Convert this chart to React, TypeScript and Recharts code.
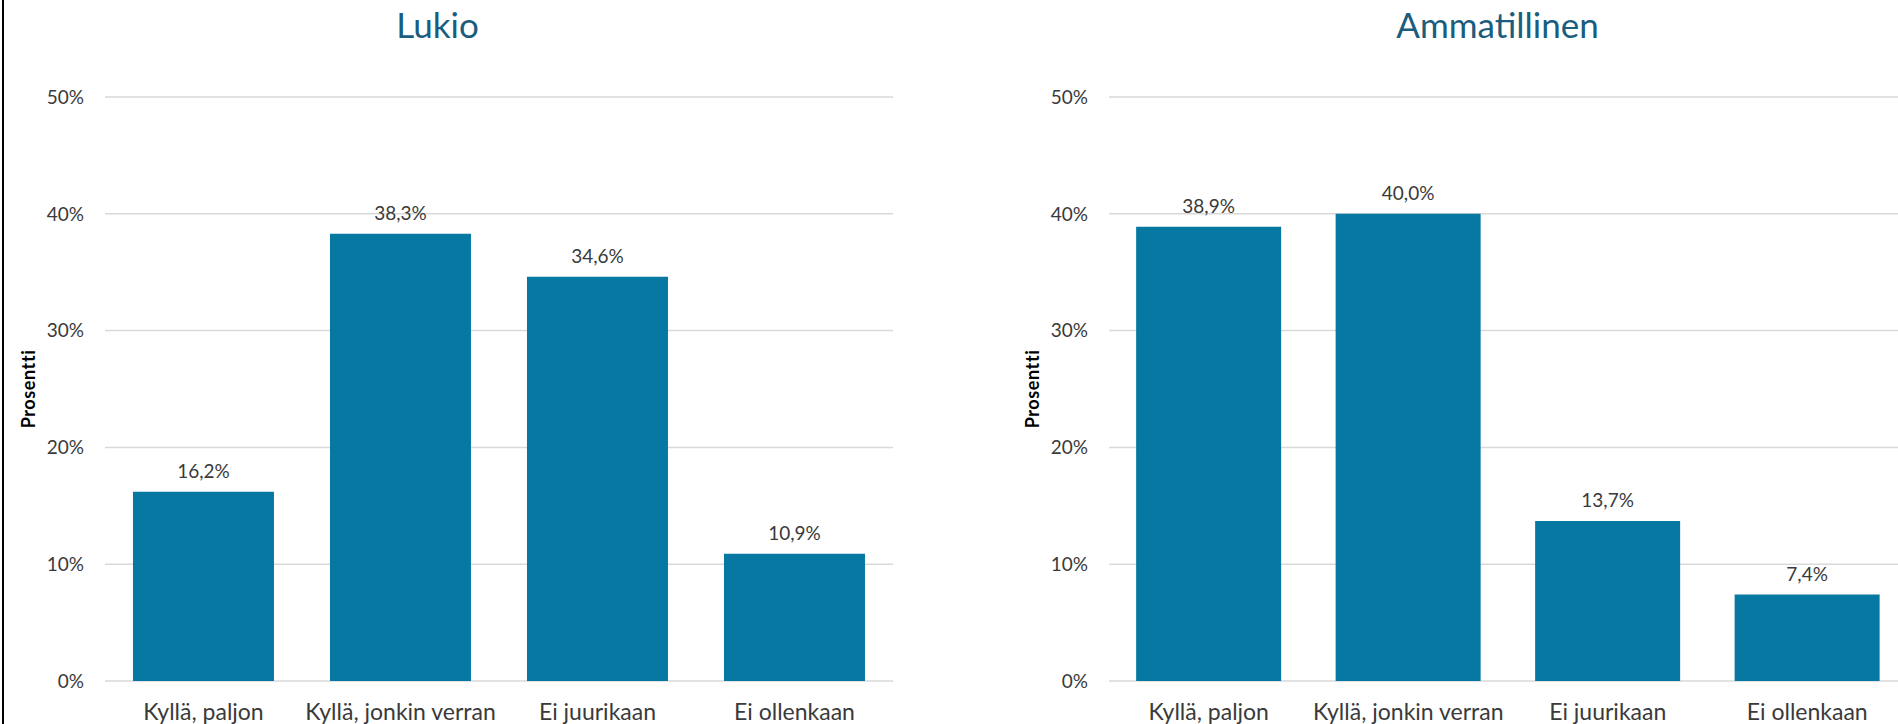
import React from 'react';
import { BarChart, Bar, XAxis, YAxis, CartesianGrid, LabelList, Label } from 'recharts';

const categories = ['Kyllä, paljon', 'Kyllä, jonkin verran', 'Ei juurikaan', 'Ei ollenkaan'];
const lukioValues = [16.2, 38.3, 34.6, 10.9];
const ammatillinenValues = [38.9, 40.0, 13.7, 7.4];
const yTicks = [0, 10, 20, 30, 40, 50];
const chartTitles = ['Lukio', 'Ammatillinen'];
const yAxisTitle = 'Prosentti';

const BAR_COLOR = '#0678A2';
const TEXT_COLOR = '#3a3a3a';
const TITLE_COLOR = '#1B5D7E';
const FONT = 'Lato, "Open Sans", sans-serif';

const fmtPct = (v: any) => `${Number(v).toFixed(1).replace('.', ',')}%`;

function Panel({ values, width, gap }: { values: number[]; width: number; gap: string }) {
  const data = categories.map((c, i) => ({ name: c, value: values[i] }));
  return (
    <BarChart
      width={width}
      height={724}
      data={data}
      margin={{ top: 97, right: 0, bottom: 0, left: 0 }}
      barCategoryGap={gap}
    >
      <CartesianGrid vertical={false} stroke="#d9d9d9" strokeWidth={1.5} />
      <XAxis
        dataKey="name"
        height={43}
        axisLine={false}
        tickLine={false}
        tickMargin={17}
        interval={0}
        tick={{ fill: TEXT_COLOR, fontSize: 23 }}
      />
      <YAxis
        width={105}
        domain={[0, 50]}
        ticks={yTicks}
        axisLine={false}
        tickLine={false}
        tickMargin={15}
        tickFormatter={(v: number) => `${v}%`}
        tick={{ fill: TEXT_COLOR, fontSize: 19 }}
      >
        <Label
          value={yAxisTitle}
          angle={-90}
          position="insideLeft"
          offset={29}
          fill="#000"
          style={{ textAnchor: 'middle', fontSize: 18, fontWeight: 700, letterSpacing: 0.6 }}
        />
      </YAxis>
      <Bar dataKey="value" fill={BAR_COLOR} isAnimationActive={false}>
        <LabelList
          dataKey="value"
          position="top"
          offset={14}
          formatter={fmtPct}
          fill={TEXT_COLOR}
          style={{ fontSize: 19, fill: TEXT_COLOR }}
        />
      </Bar>
    </BarChart>
  );
}

export default function App() {
  return (
    <div
      style={{
        position: 'absolute',
        left: 0,
        top: 0,
        width: 1898,
        height: 724,
        overflow: 'hidden',
        background: '#fff',
        fontFamily: FONT,
      }}
    >
      <div style={{ position: 'absolute', left: 2, top: 0, width: 2, height: 724, background: '#000' }} />
      <div style={{ position: 'absolute', left: 0, top: 0 }}>
        <Panel values={lukioValues} width={893} gap="14.2%" />
      </div>
      <div style={{ position: 'absolute', left: 1004, top: 0 }}>
        <Panel values={ammatillinenValues} width={903} gap="13.6%" />
      </div>
      <svg
        width={1898}
        height={724}
        style={{ position: 'absolute', left: 0, top: 0, pointerEvents: 'none' }}
      >
        <text x={437.5} y={38} textAnchor="middle" fill={TITLE_COLOR} fontSize={35} fontFamily={FONT}>
          {chartTitles[0]}
        </text>
        <text x={1497.5} y={38} textAnchor="middle" fill={TITLE_COLOR} fontSize={35} fontFamily={FONT}>
          {chartTitles[1]}
        </text>
      </svg>
    </div>
  );
}
